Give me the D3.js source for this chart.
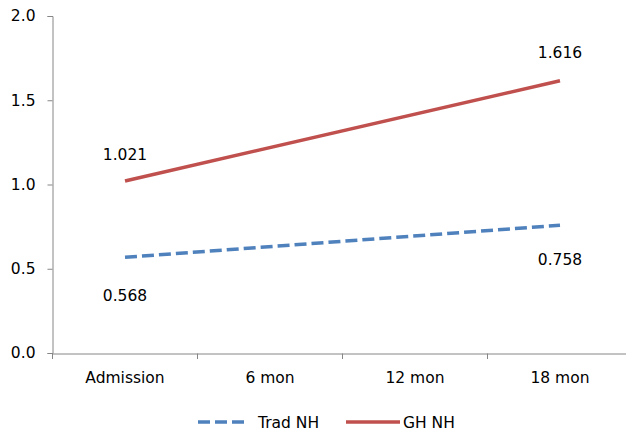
<!DOCTYPE html>
<html><head><meta charset="utf-8">
<script src="https://cdn.jsdelivr.net/npm/d3@7"></script>
<style>body{margin:0;background:#fff}svg{display:block}text{font-family:"DejaVu Sans",Verdana,sans-serif;fill:#000}</style>
</head><body><svg id="c" width="626" height="437"></svg>
<script>
const categories = ["Admission", "6 mon", "12 mon", "18 mon"];
const tradNH = [0.568, null, null, 0.758];
const ghNH = [1.021, null, null, 1.616];
const yTicks = [0.0, 0.5, 1.0, 1.5, 2.0];
const seriesNames = ["Trad NH", "GH NH"];

const FS = 15.5;
const svg = d3.select("#c");
const x = d3.scaleBand().domain(categories).range([52.5, 632.5]);
const y = d3.scaleLinear().domain([0, 2]).range([353, 16]);
const cx = c => x(c) + x.bandwidth() / 2;

const yAxis = svg.append("g").attr("transform", "translate(52.5,0)")
  .call(d3.axisLeft(y).tickValues(yTicks).tickFormat(d3.format(".1f")).tickSize(5).tickPadding(12));
const xAxis = svg.append("g").attr("transform", "translate(0,353.5)")
  .call(d3.axisBottom(x).tickSize(0).tickPadding(18));
[yAxis, xAxis].forEach(g => {
  g.selectAll("path,line").attr("stroke", "#868686");
  g.selectAll("text").attr("font-size", FS).attr("font-family", "DejaVu Sans, Verdana, sans-serif").attr("fill", "#000");
});
// x tick marks at band boundaries
svg.append("g").selectAll("line").data(categories).join("line")
  .attr("x1", d => x(d)).attr("x2", d => x(d)).attr("y1", 353.5).attr("y2", 359)
  .attr("stroke", "#868686");

const series = [
  {name: seriesNames[0], vals: tradNH, color: "#4F81BD", dash: "12,5", off: [44, 40]},
  {name: seriesNames[1], vals: ghNH, color: "#C0504D", dash: null, off: [-21, -23]}
];
const line = d3.line().x(d => cx(d.c)).y(d => y(d.v));
series.forEach(s => {
  const pts = categories.map((c, i) => ({c, v: s.vals[i]})).filter(d => d.v != null);
  svg.append("path").attr("d", line(pts)).attr("fill", "none")
    .attr("stroke", s.color).attr("stroke-width", 3.5)
    .attr("stroke-dasharray", s.dash);
  svg.append("g").selectAll("text").data(pts).join("text")
    .attr("x", d => cx(d.c)).attr("y", (d, i) => y(d.v) + s.off[i])
    .attr("text-anchor", "middle").attr("font-size", FS)
    .text(d => d3.format(".3f")(d.v));
});

// legend
const leg = svg.append("g");
const lx = [198, 346];
series.forEach((s, i) => {
  leg.append("line").attr("x1", lx[i]).attr("x2", lx[i] + (i === 0 ? 49 : 54)).attr("y1", 422).attr("y2", 422)
    .attr("stroke", s.color).attr("stroke-width", 3.5).attr("stroke-dasharray", s.dash);
  leg.append("text").attr("x", lx[i] + (i === 0 ? 60 : 57)).attr("y", 428).attr("font-size", FS).text(s.name);
});
</script></body></html>
